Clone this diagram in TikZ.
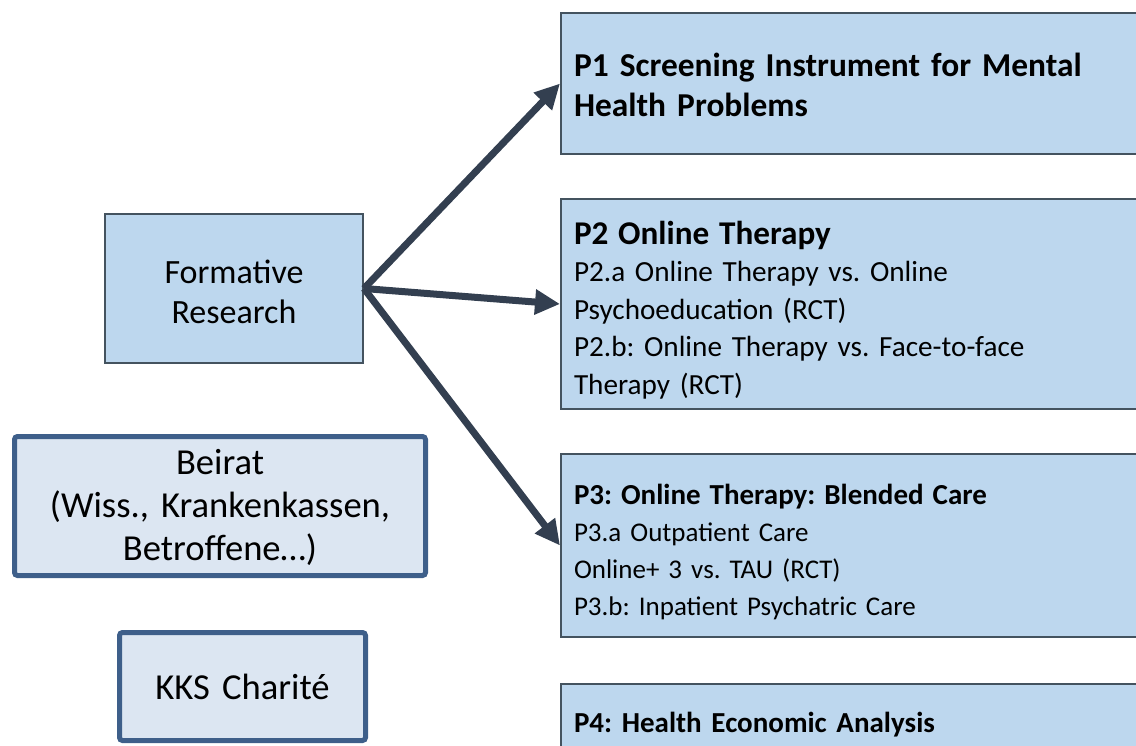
\documentclass[tikz,border=0pt]{standalone}
\usepackage{fontspec}
\setmainfont{Carlito}
\usepackage{xcolor}
\usetikzlibrary{arrows.meta}
\frenchspacing

\definecolor{projfill}{HTML}{BDD7EE}
\definecolor{projline}{HTML}{44535F}
\definecolor{sidefill}{HTML}{DCE6F2}
\definecolor{sideline}{HTML}{3E5F8A}
\definecolor{arrowcol}{HTML}{333F50}

% box edges come from text height (top) and text depth (bottom)
\tikzset{
  project/.style={rectangle, fill=projfill, draw=projline, line width=1pt, anchor=north west,
    inner xsep=6.5pt, inner ysep=0pt, text width=297pt, align=left},
  research/.style={rectangle, fill=projfill, draw=projline, line width=1pt, anchor=north west,
    inner sep=0pt, text width=129pt, align=center, font=\fontsize{17}{20}\selectfont},
  sidebox/.style={rectangle, fill=sidefill, draw=sideline, line width=2.5pt, rounded corners=1.5pt,
    anchor=north west, inner sep=0pt, align=center, font=\fontsize{18.3}{21.5}\selectfont},
  flow/.style={draw=arrowcol, line width=3.5pt, -{Triangle[length=12.5pt,width=12pt]}}
}

\begin{document}
\begin{tikzpicture}[x=0.5pt, y=-0.5pt]
\useasboundingbox (0,0) rectangle (1136,745);
\clip (0,0) rectangle (1136,745);

% work packages
\node[project, text height=31.5pt, text depth=39pt, font=\fontsize{16.7}{20}\selectfont\bfseries] (P1) at (560,12) {
P1 Screening Instrument for Mental\\
Health Problems};
\node[project, text height=22.5pt, text depth=82.5pt, font=\fontsize{14.6}{18.75}\selectfont] (P2) at (560,198) {
{\fontsize{16.6}{18.75}\selectfont\bfseries P2 Online Therapy}\\
P2.a Online Therapy vs. Online\\
Psychoeducation (RCT)\\
P2.b: Online Therapy vs. Face-to-face\\
Therapy (RCT)};
\node[project, text height=25pt, text depth=66.5pt, font=\fontsize{13.5}{18.5}\selectfont] (P3) at (560,453) {
{\fontsize{14.5}{18.5}\selectfont\bfseries P3: Online Therapy: Blended Care}\\
P3.a Outpatient Care\\
Online+ 3 vs. TAU (RCT)\\
P3.b: Inpatient Psychatric Care};
\node[project, text height=24pt, text depth=35pt, font=\fontsize{14.5}{18.5}\selectfont\bfseries] (P4) at (560,683) {
P4: Health Economic Analysis};

% left column
\node[research, text height=34.5pt, text depth=40pt] (form) at (104,213) {Formative\\Research};
\node[sidebox, text width=205.5pt, text height=19pt, text depth=50.5pt] (beirat) at (12,434) {
Beirat\\(Wiss., Krankenkassen,\\Betroffene…)};
\node[sidebox, text width=123pt, text height=33.5pt, text depth=20.5pt] (kks) at (117,630) {KKS Charité};

\draw[flow] (form.east) -- (P1.west);
\draw[flow] (form.east) -- (P2.west);
\draw[flow] (form.east) -- (P3.west);
\end{tikzpicture}
\end{document}
